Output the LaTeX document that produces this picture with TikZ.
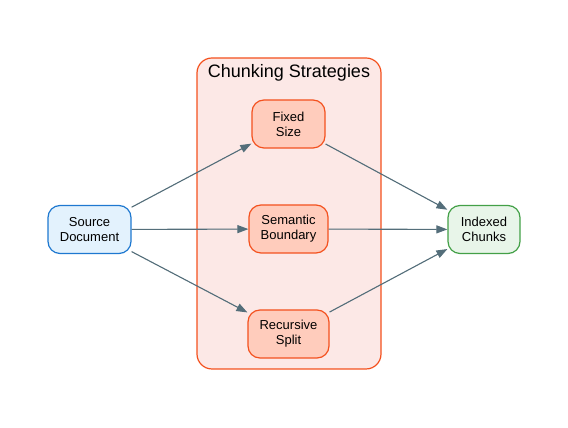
\documentclass[tikz,border=0pt]{standalone}
\usepackage{fontspec}
\setmainfont{Liberation Sans}
\usepackage{tikz}
\usetikzlibrary{positioning,arrows.meta,calc}

\definecolor{srcfill}{HTML}{E3F2FD}
\definecolor{srcline}{HTML}{1E78D0}
\definecolor{stratfill}{HTML}{FFCCBC}
\definecolor{stratline}{HTML}{F4511E}
\definecolor{clusterfill}{HTML}{FCE8E6}
\definecolor{outfill}{HTML}{E8F5E9}
\definecolor{outline}{HTML}{43A047}
\definecolor{edgecol}{HTML}{546E7A}

\begin{document}
\begin{tikzpicture}[x=1pt,y=1pt,>={Triangle[length=11pt,width=8pt]},
		every node/.style={font=\fontsize{13}{15}\selectfont,align=center},
		box/.style={draw,line width=1.2pt,rounded corners=12pt,minimum height=48pt,inner sep=2pt},
		strat/.style={box,fill=stratfill,draw=stratline},
		link/.style={->,draw=edgecol,fill=edgecol,line width=1.1pt},
		]
		\useasboundingbox (0,0) rectangle (568,428);
		
		% Cluster
		\draw[fill=clusterfill,draw=stratline,line width=1.2pt,rounded corners=15pt]
		(197,59) rectangle (381,370);
		\node[font=\fontsize{18}{20}\selectfont] (title) at (289,355) {Chunking Strategies};
		
		% Source and output
		\node[box,fill=srcfill,draw=srcline,minimum width=83pt] (src) at (89.5,198.5) {Source\\Document};
		\node[box,fill=outfill,draw=outline,minimum width=72pt] (out) at (484,198.5) {Indexed\\Chunks};
		
		% Strategies
		\node[strat,minimum width=73pt] (fixed) at (288.5,304) {Fixed\\Size};
		\node[strat,minimum width=79pt] (sem) at (288.5,199) {Semantic\\Boundary};
		\node[strat,minimum width=81pt] (rec) at (288.5,94) {Recursive\\Split};
		
		\draw[link] (src)--(fixed);
		\draw[link] (src)--(sem);
		\draw[link] (src)--(rec);
		
		\draw[link] (fixed)--(out);
		\draw[link] (sem)--(out);
		\draw[link] (rec)--(out);
		
	\end{tikzpicture}
\end{document}
